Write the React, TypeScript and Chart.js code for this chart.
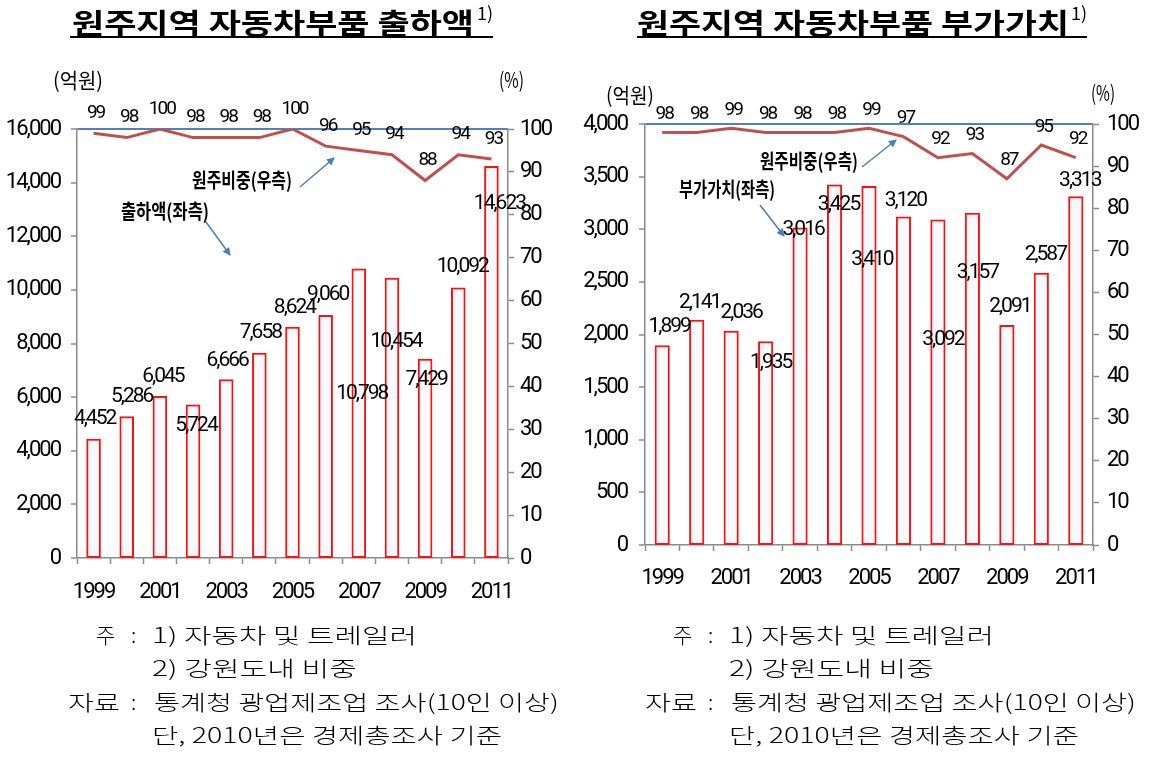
import React, { useEffect, useRef } from 'react';
import { Chart, registerables } from 'chart.js';

Chart.register(...registerables);

// ---------- data ----------
const years = ['1999', '2000', '2001', '2002', '2003', '2004', '2005', '2006', '2007', '2008', '2009', '2010', '2011'];

// 출하액 (억원) and 원주 비중 (%)
const shipments = [4452, 5286, 6045, 5724, 6666, 7658, 8624, 9060, 10798, 10454, 7429, 10092, 14623];
const shipmentShare = [99, 98, 100, 98, 98, 98, 100, 96, 95, 94, 88, 94, 93];

// 부가가치 (억원) and 원주 비중 (%)
const valueAdded = [1899, 2141, 2036, 1935, 3016, 3425, 3410, 3120, 3092, 3157, 2091, 2587, 3313];
const valueAddedShare = [98, 98, 99, 98, 98, 98, 99, 97, 92, 93, 87, 95, 92];

// axis ranges
const shipmentAxisMax = 16000;
const shipmentAxisStep = 2000;
const valueAxisMax = 4000;
const valueAxisStep = 500;
const shareAxisMax = 100;
const shareAxisStep = 10;

// label nudges (pixel offsets from each bar's top, as placed in the original)
const shipmentLabelNudge = [
  [1, -20], [5, -20], [3, -19], [3, 21], [1, -19], [1, -20], [2, -19],
  [2, -20], [3, 125], [4, 64], [1, 21], [4, -21], [8, 38],
];
const valueLabelNudge = [
  [7, -18], [3, -17], [10, -18], [5, 21], [3, 2], [4, 20], [3, 74],
  [2, -16], [5, 120], [5, 60], [3, -18], [4, -18], [4, -16],
];

// ---------- styles ----------
const RED_LINE = '#c0504d';
const BAR_BORDER = '#ff1010';
const BAR_FILL = 'rgba(236,240,250,0.4)';
const AXIS_GREY = '#8a8a8a';
const TOP_BLUE = '#4f81bd';
const ARROW_BLUE = '#4a7ebb';
const NUM_FONT = 'Roboto';
const KR_FONT = "'Noto Sans CJK KR', 'Noto Sans', sans-serif";

type Side = {
  bars: number[];
  share: number[];
  yMax: number;
  yStep: number;
  nudges: number[][];
  shareDx: number;
  shareDy: number;
  padTop: number;
  leftW: number;
  rightW: number;
  xH: number;
  leftTickPad: number;
  rightTickPad: number;
  xTickPad: number;
};

function fmt(v: number) {
  return v.toLocaleString('en-US');
}

function buildConfig(s: Side): any {
  const spacingPlugin = {
    id: 'condensed',
    beforeDraw(chart: any) {
      chart.ctx.letterSpacing = '-2px';
    },
  };
  const labelPlugin = {
    id: 'valueLabels',
    afterDatasetsDraw(chart: any) {
      const ctx = chart.ctx;
      ctx.save();
      ctx.letterSpacing = '-2px';
      ctx.fillStyle = '#000';
      ctx.textAlign = 'center';
      ctx.textBaseline = 'middle';
      ctx.font = `21px ${NUM_FONT}`;
      const barMeta = chart.getDatasetMeta(1);
      barMeta.data.forEach((el: any, i: number) => {
        const v = chart.data.datasets[1].data[i];
        const n = s.nudges[i] || [0, -18];
        ctx.fillText(fmt(v), el.x + n[0], el.y + n[1]);
      });
      ctx.font = `19px ${NUM_FONT}`;
      const lineMeta = chart.getDatasetMeta(0);
      lineMeta.data.forEach((el: any, i: number) => {
        const v = chart.data.datasets[0].data[i];
        ctx.fillText(String(v), el.x + s.shareDx, el.y + s.shareDy);
      });
      ctx.restore();
    },
  };

  return {
    type: 'bar',
    data: {
      labels: years,
      datasets: [
        {
          type: 'line',
          data: s.share,
          yAxisID: 'y1',
          borderColor: RED_LINE,
          borderWidth: 3,
          pointRadius: 0,
          tension: 0,
          fill: false,
          order: 0,
        },
        {
          type: 'bar',
          data: s.bars,
          yAxisID: 'y',
          backgroundColor: BAR_FILL,
          borderColor: BAR_BORDER,
          borderWidth: 2,
          borderSkipped: false,
          barPercentage: 0.44,
          categoryPercentage: 1,
          order: 1,
        },
      ],
    },
    options: {
      responsive: false,
      animation: false,
      devicePixelRatio: 1,
      layout: { padding: { top: s.padTop, left: 0, right: 0, bottom: 0 } },
      plugins: {
        legend: { display: false },
        tooltip: { enabled: false },
        title: { display: false },
      },
      scales: {
        x: {
          type: 'category',
          offset: true,
          grid: {
            offset: true,
            drawOnChartArea: false,
            drawTicks: true,
            tickLength: 6,
            tickColor: AXIS_GREY,
            tickWidth: 1.5,
          },
          border: { display: true, color: AXIS_GREY, width: 1.5 },
          ticks: {
            autoSkip: false,
            maxRotation: 0,
            minRotation: 0,
            padding: s.xTickPad,
            color: '#000',
            font: { family: NUM_FONT, size: 22 },
            callback: (_v: any, i: number) => (i % 2 === 0 ? years[i] : ''),
          },
          afterFit: (scale: any) => {
            scale.height = s.xH;
          },
        },
        y: {
          position: 'left',
          min: 0,
          max: s.yMax,
          grid: {
            drawOnChartArea: true,
            color: (c: any) => (c.tick && c.tick.value === s.yMax ? TOP_BLUE : 'rgba(0,0,0,0)'),
            lineWidth: (c: any) => (c.tick && c.tick.value === s.yMax ? 2 : 0),
            drawTicks: true,
            tickLength: 6,
            tickColor: AXIS_GREY,
            tickWidth: 1.5,
          },
          border: { display: true, color: AXIS_GREY, width: 1.5 },
          ticks: {
            stepSize: s.yStep,
            padding: s.leftTickPad,
            color: '#000',
            font: { family: NUM_FONT, size: 22 },
            callback: (v: any) => fmt(Number(v)),
          },
          afterFit: (scale: any) => {
            scale.width = s.leftW;
          },
        },
        y1: {
          position: 'right',
          min: 0,
          max: shareAxisMax,
          grid: {
            drawOnChartArea: false,
            drawTicks: true,
            tickLength: 6,
            tickColor: AXIS_GREY,
            tickWidth: 1.5,
          },
          border: { display: true, color: AXIS_GREY, width: 1.5 },
          ticks: {
            stepSize: shareAxisStep,
            padding: s.rightTickPad,
            color: '#000',
            font: { family: NUM_FONT, size: 22 },
          },
          afterFit: (scale: any) => {
            scale.width = s.rightW;
          },
        },
      },
    },
    plugins: [spacingPlugin, labelPlugin],
  };
}

type TProps = { x: number; y: number; len?: number; size: number; weight?: number | string; children: string; family?: string };
function T({ x, y, len, size, weight = 400, children, family = KR_FONT }: TProps) {
  const extra: any = {};
  if (len) {
    extra.textLength = len;
    extra.lengthAdjust = 'spacingAndGlyphs';
  }
  return (
    <text x={x} y={y} fontSize={size} fontWeight={weight} fontFamily={family} dominantBaseline="central" fill="#000" {...extra}>
      {children}
    </text>
  );
}

function Arrow({ x1, y1, x2, y2 }: { x1: number; y1: number; x2: number; y2: number }) {
  return <line x1={x1} y1={y1} x2={x2} y2={y2} stroke={ARROW_BLUE} strokeWidth={1.5} markerEnd="url(#ah)" />;
}

function Notes({ dx }: { dx: number }) {
  return (
    <g transform={`translate(${dx},0)`}>
      <T x={96} y={634} size={21} weight={300}>주</T>
      <T x={131} y={634} size={21} weight={300}>:</T>
      <T x={152} y={634} size={21} weight={300} len={265}>1) 자동차 및 트레일러</T>
      <T x={152} y={667} size={21} weight={300} len={205}>2) 강원도내 비중</T>
      <T x={68} y={701} size={21} weight={300} len={52}>자료</T>
      <T x={131} y={701} size={21} weight={300}>:</T>
      <T x={154} y={701} size={21} weight={300} len={405}>통계청 광업제조업 조사(10인 이상)</T>
      <T x={152} y={734} size={21} weight={300} len={350}>단, 2010년은 경제총조사 기준</T>
    </g>
  );
}

export default function App() {
  const leftRef = useRef<HTMLCanvasElement>(null);
  const rightRef = useRef<HTMLCanvasElement>(null);

  useEffect(() => {
    const c1 = new Chart(
      leftRef.current as HTMLCanvasElement,
      buildConfig({
        bars: shipments,
        share: shipmentShare,
        yMax: shipmentAxisMax,
        yStep: shipmentAxisStep,
        nudges: shipmentLabelNudge,
        shareDx: 2,
        shareDy: -20,
        padTop: 39,
        leftW: 77,
        rightW: 62,
        xH: 52,
        leftTickPad: 11,
        rightTickPad: 6,
        xTickPad: 15,
      })
    );
    const c2 = new Chart(
      rightRef.current as HTMLCanvasElement,
      buildConfig({
        bars: valueAdded,
        share: valueAddedShare,
        yMax: valueAxisMax,
        yStep: valueAxisStep,
        nudges: valueLabelNudge,
        shareDx: 2,
        shareDy: -18,
        padTop: 34,
        leftW: 65,
        rightW: 60,
        xH: 65,
        leftTickPad: 12,
        rightTickPad: 8,
        xTickPad: 14,
      })
    );
    return () => {
      c1.destroy();
      c2.destroy();
    };
  }, []);

  return (
    <div style={{ position: 'absolute', left: 0, top: 0, width: 1153, height: 757, background: '#fff', overflow: 'hidden' }}>
      <canvas ref={leftRef} width={570} height={520} style={{ position: 'absolute', left: 0, top: 90, width: 570, height: 520, display: 'block' }} />
      <canvas ref={rightRef} width={573} height={520} style={{ position: 'absolute', left: 580, top: 90, width: 573, height: 520, display: 'block' }} />
      <svg width={1153} height={757} style={{ position: 'absolute', left: 0, top: 0, pointerEvents: 'none' }}>
        <defs>
          <marker id="ah" markerUnits="userSpaceOnUse" markerWidth={10} markerHeight={10} refX={7} refY={4} orient="auto">
            <path d="M0,0 L8,4 L0,8 z" fill={ARROW_BLUE} />
          </marker>
        </defs>

        {/* titles */}
        <T x={72} y={22} size={28} weight={700} len={402}>원주지역 자동차부품 출하액</T>
        <T x={477} y={12} size={18} weight={400}>1)</T>
        <line x1={70} y1={37} x2={493} y2={37} stroke="#000" strokeWidth={2} />

        <T x={637} y={22} size={28} weight={700} len={432}>원주지역 자동차부품 부가가치</T>
        <T x={1071} y={12} size={18} weight={400}>1)</T>
        <line x1={637} y1={37} x2={1087} y2={37} stroke="#000" strokeWidth={2} />

        {/* axis units */}
        <T x={53} y={79} size={21} len={50}>(억원)</T>
        <T x={499} y={79} size={21} len={25}>(%)</T>
        <T x={606} y={94} size={21} len={48}>(억원)</T>
        <T x={1091} y={92} size={21} len={24}>(%)</T>

        {/* annotations */}
        <T x={192} y={179} size={20} weight={700} len={100}>원주비중(우측)</T>
        <Arrow x1={300} y1={187} x2={334} y2={158} />
        <T x={121} y={210} size={20} weight={700} len={88}>출하액(좌측)</T>
        <Arrow x1={206} y1={222} x2={230} y2={255} />

        <T x={760} y={160} size={20} weight={700} len={98}>원주비중(우측)</T>
        <Arrow x1={862} y1={167} x2={896} y2={140} />
        <T x={679} y={188} size={20} weight={700} len={96}>부가가치(좌측)</T>
        <Arrow x1={760} y1={205} x2={784} y2={236} />

        {/* notes */}
        <Notes dx={0} />
        <Notes dx={577} />
      </svg>
    </div>
  );
}
